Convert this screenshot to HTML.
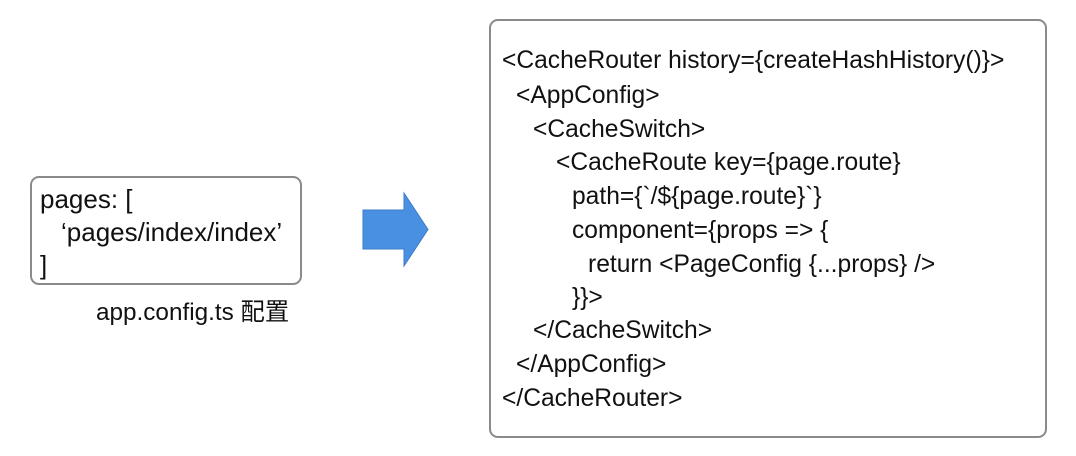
<!DOCTYPE html>
<html><head><meta charset="utf-8"><style>
body{margin:0;width:1076px;height:456px;background:#fff;position:relative;overflow:hidden;font-family:"Liberation Sans","Noto Sans CJK SC",sans-serif;color:#111;}
.box{position:absolute;border:2px solid #8a8a8a;border-radius:9px;box-sizing:border-box;background:#fff;}
.t{position:absolute;font-size:24.6px;line-height:24px;white-space:pre;}
.l{font-size:26px;}
</style></head><body>
<div class="box" style="left:30px;top:176px;width:272px;height:109px"></div>
<div class="t l" style="left:40px;top:187px">pages: [</div>
<div class="t l" style="left:61px;top:220px">‘pages/index/index’</div>
<div class="t l" style="left:40px;top:253px">]</div>
<div class="t" style="left:96px;top:301px;font-size:24.3px">app.config.ts 配置</div>
<svg style="position:absolute;left:0;top:0" width="1076" height="456">
<polygon points="363,210 404,210 404,193 428,229.5 404,266 404,249 363,249" fill="#4a90e2" stroke="#3a7bc8" stroke-width="1"/>
</svg>
<div class="box" style="left:489px;top:19px;width:558px;height:419px"></div>
<div class="t" style="left:502px;top:49px">&lt;CacheRouter history={createHashHistory()}&gt;</div>
<div class="t" style="left:516px;top:84px">&lt;AppConfig&gt;</div>
<div class="t" style="left:533px;top:118px">&lt;CacheSwitch&gt;</div>
<div class="t" style="left:556px;top:151px">&lt;CacheRoute key={page.route}</div>
<div class="t" style="left:572px;top:185px">path={`/${page.route}`}</div>
<div class="t" style="left:572px;top:219px">component={props =&gt; {</div>
<div class="t" style="left:588px;top:253px">return &lt;PageConfig {...props} /&gt;</div>
<div class="t" style="left:572px;top:286px">}}&gt;</div>
<div class="t" style="left:533px;top:319px">&lt;/CacheSwitch&gt;</div>
<div class="t" style="left:516px;top:353px">&lt;/AppConfig&gt;</div>
<div class="t" style="left:502px;top:387px">&lt;/CacheRouter&gt;</div>
</body></html>
